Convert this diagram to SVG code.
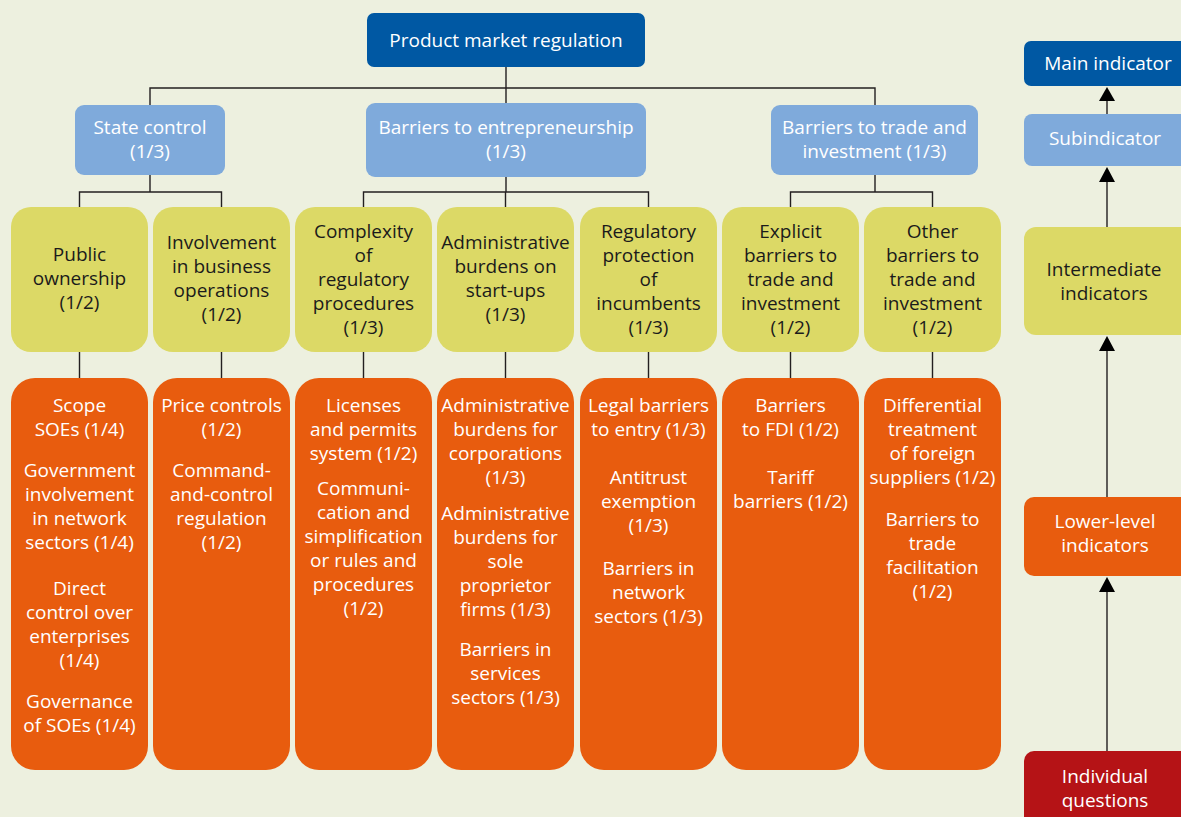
<svg xmlns="http://www.w3.org/2000/svg" width="1181" height="817" viewBox="0 0 1181 817">
<style>
text{font-family:"Open Sans","Noto Sans",sans-serif;font-size:19px;text-anchor:middle}
.w{fill:#ffffff}
.d{fill:#1b1b1b}
.main{fill:#0058A3}
.sub{fill:#7FAADB}
.mid{fill:#DCD966}
.low{fill:#E85C0E}
.q{fill:#B51316}
.c{stroke:#231F20;stroke-width:1.4;fill:none}
.ah{fill:#000000}
</style>
<rect width="1181" height="817" fill="#EDF0DF"/>

<g id="connectors">
<path class="c" d="M506 67V88M150 105V88H875V105M506 88V103"/>
<path class="c" d="M150 175V192M79.5 207V192H221.5V207"/>
<path class="c" d="M506 177V192M363.5 207V192H648.5V207M505.5 192V207"/>
<path class="c" d="M875 175V192M790.5 207V192H932.5V207"/>
<path class="c" d="M79.5 352V378M221.5 352V378M363.5 352V378M505.5 352V378M648.5 352V378M790.5 352V378M932.5 352V378"/>
</g>

<g id="n-pmr">
<rect class="main" x="367" y="13" width="278" height="54" rx="7"/>
<text class="w" x="506" y="47">Product market regulation</text>
</g>

<g id="n-state">
<rect class="sub" x="75" y="105" width="150" height="70" rx="9"/>
<text class="w"><tspan x="150" y="134">State control</tspan><tspan x="150" y="158">(1/3)</tspan></text>
</g>
<g id="n-entre">
<rect class="sub" x="366" y="103" width="280" height="74" rx="9"/>
<text class="w"><tspan x="506" y="134">Barriers to entrepreneurship</tspan><tspan x="506" y="158">(1/3)</tspan></text>
</g>
<g id="n-trade">
<rect class="sub" x="771" y="105" width="207" height="70" rx="9"/>
<text class="w"><tspan x="874.5" y="134">Barriers to trade and</tspan><tspan x="874.5" y="158">investment (1/3)</tspan></text>
</g>

<g id="i-public">
<rect class="mid" x="11" y="207" width="137" height="145" rx="20"/>
<text class="d"><tspan x="79.5" y="261">Public</tspan><tspan x="79.5" y="285">ownership</tspan><tspan x="79.5" y="309">(1/2)</tspan></text>
</g>
<g id="i-involve">
<rect class="mid" x="153" y="207" width="137" height="145" rx="20"/>
<text class="d"><tspan x="221.5" y="249">Involvement</tspan><tspan x="221.5" y="273">in business</tspan><tspan x="221.5" y="297">operations</tspan><tspan x="221.5" y="321">(1/2)</tspan></text>
</g>
<g id="i-complex">
<rect class="mid" x="295" y="207" width="137" height="145" rx="20"/>
<text class="d"><tspan x="363.5" y="238">Complexity</tspan><tspan x="363.5" y="262">of</tspan><tspan x="363.5" y="286">regulatory</tspan><tspan x="363.5" y="310">procedures</tspan><tspan x="363.5" y="334">(1/3)</tspan></text>
</g>
<g id="i-admin">
<rect class="mid" x="437" y="207" width="137" height="145" rx="20"/>
<text class="d"><tspan x="505.5" y="249">Administrative</tspan><tspan x="505.5" y="273">burdens on</tspan><tspan x="505.5" y="297">start-ups</tspan><tspan x="505.5" y="321">(1/3)</tspan></text>
</g>
<g id="i-regprot">
<rect class="mid" x="580" y="207" width="137" height="145" rx="20"/>
<text class="d"><tspan x="648.5" y="238">Regulatory</tspan><tspan x="648.5" y="262">protection</tspan><tspan x="648.5" y="286">of</tspan><tspan x="648.5" y="310">incumbents</tspan><tspan x="648.5" y="334">(1/3)</tspan></text>
</g>
<g id="i-explicit">
<rect class="mid" x="722" y="207" width="137" height="145" rx="20"/>
<text class="d"><tspan x="790.5" y="238">Explicit</tspan><tspan x="790.5" y="262">barriers to</tspan><tspan x="790.5" y="286">trade and</tspan><tspan x="790.5" y="310">investment</tspan><tspan x="790.5" y="334">(1/2)</tspan></text>
</g>
<g id="i-other">
<rect class="mid" x="864" y="207" width="137" height="145" rx="20"/>
<text class="d"><tspan x="932.5" y="238">Other</tspan><tspan x="932.5" y="262">barriers to</tspan><tspan x="932.5" y="286">trade and</tspan><tspan x="932.5" y="310">investment</tspan><tspan x="932.5" y="334">(1/2)</tspan></text>
</g>

<g id="l-public">
<rect class="low" x="11" y="378" width="137" height="392" rx="24"/>
<text class="w"><tspan x="79.5" y="412">Scope</tspan><tspan x="79.5" y="436">SOEs (1/4)</tspan><tspan x="79.5" y="477">Government</tspan><tspan x="79.5" y="501">involvement</tspan><tspan x="79.5" y="525">in network</tspan><tspan x="79.5" y="549">sectors (1/4)</tspan><tspan x="79.5" y="595">Direct</tspan><tspan x="79.5" y="619">control over</tspan><tspan x="79.5" y="643">enterprises</tspan><tspan x="79.5" y="667">(1/4)</tspan><tspan x="79.5" y="708">Governance</tspan><tspan x="79.5" y="732">of SOEs (1/4)</tspan></text>
</g>
<g id="l-involve">
<rect class="low" x="153" y="378" width="137" height="392" rx="24"/>
<text class="w"><tspan x="221.5" y="412">Price controls</tspan><tspan x="221.5" y="436">(1/2)</tspan><tspan x="221.5" y="477">Command-</tspan><tspan x="221.5" y="501">and-control</tspan><tspan x="221.5" y="525">regulation</tspan><tspan x="221.5" y="549">(1/2)</tspan></text>
</g>
<g id="l-complex">
<rect class="low" x="295" y="378" width="137" height="392" rx="24"/>
<text class="w"><tspan x="363.5" y="412">Licenses</tspan><tspan x="363.5" y="436">and permits</tspan><tspan x="363.5" y="460">system (1/2)</tspan><tspan x="363.5" y="495">Communi-</tspan><tspan x="363.5" y="519">cation and</tspan><tspan x="363.5" y="543">simplification</tspan><tspan x="363.5" y="567">or rules and</tspan><tspan x="363.5" y="591">procedures</tspan><tspan x="363.5" y="615">(1/2)</tspan></text>
</g>
<g id="l-admin">
<rect class="low" x="437" y="378" width="137" height="392" rx="24"/>
<text class="w"><tspan x="505.5" y="412">Administrative</tspan><tspan x="505.5" y="436">burdens for</tspan><tspan x="505.5" y="460">corporations</tspan><tspan x="505.5" y="484">(1/3)</tspan><tspan x="505.5" y="520">Administrative</tspan><tspan x="505.5" y="544">burdens for</tspan><tspan x="505.5" y="568">sole</tspan><tspan x="505.5" y="592">proprietor</tspan><tspan x="505.5" y="616">firms (1/3)</tspan><tspan x="505.5" y="656">Barriers in</tspan><tspan x="505.5" y="680">services</tspan><tspan x="505.5" y="704">sectors (1/3)</tspan></text>
</g>
<g id="l-regprot">
<rect class="low" x="580" y="378" width="137" height="392" rx="24"/>
<text class="w"><tspan x="648.5" y="412">Legal barriers</tspan><tspan x="648.5" y="436">to entry (1/3)</tspan><tspan x="648.5" y="484">Antitrust</tspan><tspan x="648.5" y="508">exemption</tspan><tspan x="648.5" y="532">(1/3)</tspan><tspan x="648.5" y="575">Barriers in</tspan><tspan x="648.5" y="599">network</tspan><tspan x="648.5" y="623">sectors (1/3)</tspan></text>
</g>
<g id="l-explicit">
<rect class="low" x="722" y="378" width="137" height="392" rx="24"/>
<text class="w"><tspan x="790.5" y="412">Barriers</tspan><tspan x="790.5" y="436">to FDI (1/2)</tspan><tspan x="790.5" y="484">Tariff</tspan><tspan x="790.5" y="508">barriers (1/2)</tspan></text>
</g>
<g id="l-other">
<rect class="low" x="864" y="378" width="137" height="392" rx="24"/>
<text class="w"><tspan x="932.5" y="412">Differential</tspan><tspan x="932.5" y="436">treatment</tspan><tspan x="932.5" y="460">of foreign</tspan><tspan x="932.5" y="484">suppliers (1/2)</tspan><tspan x="932.5" y="526">Barriers to</tspan><tspan x="932.5" y="550">trade</tspan><tspan x="932.5" y="574">facilitation</tspan><tspan x="932.5" y="598">(1/2)</tspan></text>
</g>

<g id="legend-connectors">
<path class="c" d="M1107 100V114M1107 181V227M1107 350V497M1107 591V751"/>
<polygon class="ah" points="1107,87 1115,101 1099,101"/>
<polygon class="ah" points="1107,167 1115,182 1099,182"/>
<polygon class="ah" points="1107,336 1115,351 1099,351"/>
<polygon class="ah" points="1107,577 1115,592 1099,592"/>
</g>

<g id="legend-main">
<rect class="main" x="1024" y="41" width="170" height="45" rx="7"/>
<text class="w" x="1108" y="70">Main indicator</text>
</g>
<g id="legend-sub">
<rect class="sub" x="1024" y="114" width="170" height="52" rx="8"/>
<text class="w" x="1105" y="145">Subindicator</text>
</g>
<g id="legend-mid">
<rect class="mid" x="1024" y="227" width="170" height="108" rx="12"/>
<text class="d"><tspan x="1104" y="276">Intermediate</tspan><tspan x="1104" y="300">indicators</tspan></text>
</g>
<g id="legend-low">
<rect class="low" x="1024" y="497" width="170" height="79" rx="10"/>
<text class="w"><tspan x="1105" y="528">Lower-level</tspan><tspan x="1105" y="552">indicators</tspan></text>
</g>
<g id="legend-q">
<rect class="q" x="1024" y="751" width="170" height="90" rx="10"/>
<text class="w"><tspan x="1105" y="783">Individual</tspan><tspan x="1105" y="807">questions</tspan></text>
</g>
</svg>
